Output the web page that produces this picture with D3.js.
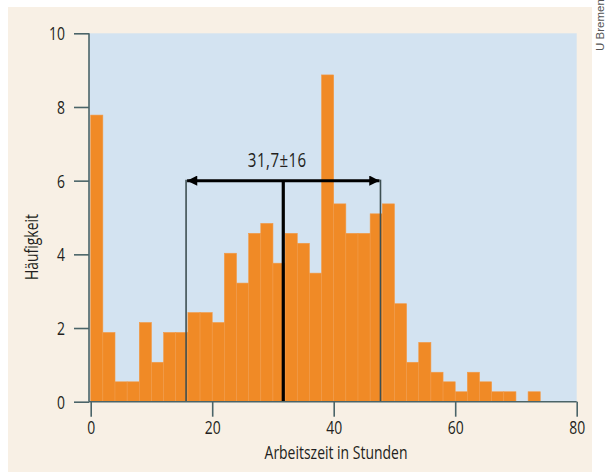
<!DOCTYPE html>
<html>
<head>
<meta charset="utf-8">
<script src="https://cdn.jsdelivr.net/npm/d3@7"></script>
<style>
  html, body { margin: 0; padding: 0; background: #ffffff; }
  svg { display: block; }
</style>
</head>
<body>
<svg id="chart" width="610" height="472"></svg>
<script>
// Bin starts (hours), bin width 2
const binStarts = [0,2,4,6,8,10,12,14,16,18,20,22,24,26,28,30,32,34,36,38,40,42,44,46,48,50,52,54,56,58,60,62,64,66,68,70,72];
const frequencies = [7.78,1.88,0.54,0.54,2.15,1.07,1.88,1.88,2.42,2.42,2.15,4.03,3.22,4.57,4.84,3.76,4.57,4.3,3.49,8.87,5.37,4.57,4.57,5.1,5.37,2.66,1.07,1.61,0.8,0.54,0.27,0.8,0.54,0.27,0.27,0,0.27];
const binWidth = 2;
const xTicks = [0,20,40,60,80];
const yTicks = [0,2,4,6,8,10];
const meanValue = 31.7;
const sdValue = 16;
const arrowLevel = 6;
const annotationLabel = "31,7\u00B116";
const xTitle = "Arbeitszeit in Stunden";
const yTitle = "Häufigkeit";
const creditLabel = "U Bremen";

const svg = d3.select("#chart");
const font = "'Open Sans', 'Noto Sans', sans-serif";
const axisColor = "#4b6468";
const textColor = "#231f20";
const fs = 18.5;

// panel backgrounds
svg.append("rect").attr("x", 8).attr("y", 7).attr("width", 584).attr("height", 465).attr("fill", "#f8f0e5");

const x = d3.scaleLinear().domain([0, 80]).range([90.7, 576.7]);
const y = d3.scaleLinear().domain([0, 10]).range([401.7, 33.3]);

svg.append("rect")
  .attr("x", 89).attr("y", y(10))
  .attr("width", x(80) - 89).attr("height", y(0) - y(10))
  .attr("fill", "#d3e3f1");

// bars
const data = binStarts.map((b, i) => ({ b, v: frequencies[i] }));
svg.append("g").selectAll("rect").data(data.filter(d => d.v > 0)).join("rect")
  .attr("x", d => x(d.b))
  .attr("y", d => y(d.v))
  .attr("width", d => x(d.b + binWidth) - x(d.b))
  .attr("height", d => y(0) - y(d.v))
  .attr("fill", "#f08a26")
  .attr("stroke", "#f29a48")
  .attr("stroke-width", 0.6);

// measure condensation factor from x title (target width ~143px)
const probe = svg.append("text").attr("font-family", font).attr("font-size", fs).text(xTitle);
const sx = 143 / probe.node().getComputedTextLength();
probe.remove();

function ctext(parent, tx, ty, rot, anchor, str, size) {
  return parent.append("text")
    .attr("transform", `translate(${tx},${ty}) rotate(${rot}) scale(${sx},1)`)
    .attr("text-anchor", anchor)
    .attr("font-family", font).attr("font-size", size || fs).attr("fill", textColor)
    .text(str);
}

// annotation lines
const ann = svg.append("g");
[meanValue - sdValue, meanValue + sdValue].forEach(v => {
  ann.append("line")
    .attr("x1", x(v)).attr("x2", x(v))
    .attr("y1", y(0)).attr("y2", y(arrowLevel) - 1)
    .attr("stroke", "#3d4f52").attr("stroke-width", 1.6);
});
ann.append("line")
  .attr("x1", x(meanValue)).attr("x2", x(meanValue))
  .attr("y1", y(0)).attr("y2", y(arrowLevel))
  .attr("stroke", "#000").attr("stroke-width", 3.2);

const defs = svg.append("defs");
defs.append("marker").attr("id", "ah").attr("viewBox", "0 0 10 10")
  .attr("refX", 10).attr("refY", 5).attr("markerWidth", 4).attr("markerHeight", 3.4)
  .attr("orient", "auto-start-reverse")
  .append("path").attr("d", "M0,0 L10,5 L0,10 Z").attr("fill", "#000");

ann.append("line")
  .attr("x1", x(meanValue - sdValue) + 1).attr("x2", x(meanValue + sdValue) - 1)
  .attr("y1", y(arrowLevel)).attr("y2", y(arrowLevel))
  .attr("stroke", "#000").attr("stroke-width", 3)
  .attr("marker-start", "url(#ah)").attr("marker-end", "url(#ah)");

ctext(ann, x(meanValue) - 6, y(arrowLevel) - 14, 0, "middle", annotationLabel, 20)
  .attr("letter-spacing", 0.6);

// axes
const xAxis = svg.append("g").attr("transform", `translate(0,${y(0)})`)
  .call(d3.axisBottom(x).tickValues(xTicks).tickSize(15).tickSizeOuter(0));
const yAxis = svg.append("g").attr("transform", `translate(89,0)`)
  .call(d3.axisLeft(y).tickValues(yTicks).tickSize(15).tickSizeOuter(0));

[xAxis, yAxis].forEach(g => {
  g.select(".domain").attr("stroke", axisColor).attr("stroke-width", 1.6);
  g.selectAll(".tick line").attr("stroke", axisColor).attr("stroke-width", 1.6);
  g.selectAll(".tick text").remove();
});
xAxis.select(".domain").attr("d", `M89,0H${x(80)}`);
yAxis.select(".domain").attr("d", `M0,${y(0)}V${y(10)}`);

xAxis.selectAll(".tick").each(function(d) {
  ctext(d3.select(this), 0, 32.5, 0, "middle", String(d));
});
yAxis.selectAll(".tick").each(function(d) {
  ctext(d3.select(this), -24, 6.5, 0, "end", String(d));
});

// titles
ctext(svg, 336, 459, 0, "middle", xTitle);
ctext(svg, 38, 247, -90, "middle", yTitle);

svg.append("text")
  .attr("transform", "translate(604,25) rotate(-90)")
  .attr("text-anchor", "middle")
  .attr("font-family", "'Liberation Sans', 'DejaVu Sans', sans-serif").attr("font-size", 11.5).attr("fill", "#555")
  .text(creditLabel);
</script>
</body>
</html>
